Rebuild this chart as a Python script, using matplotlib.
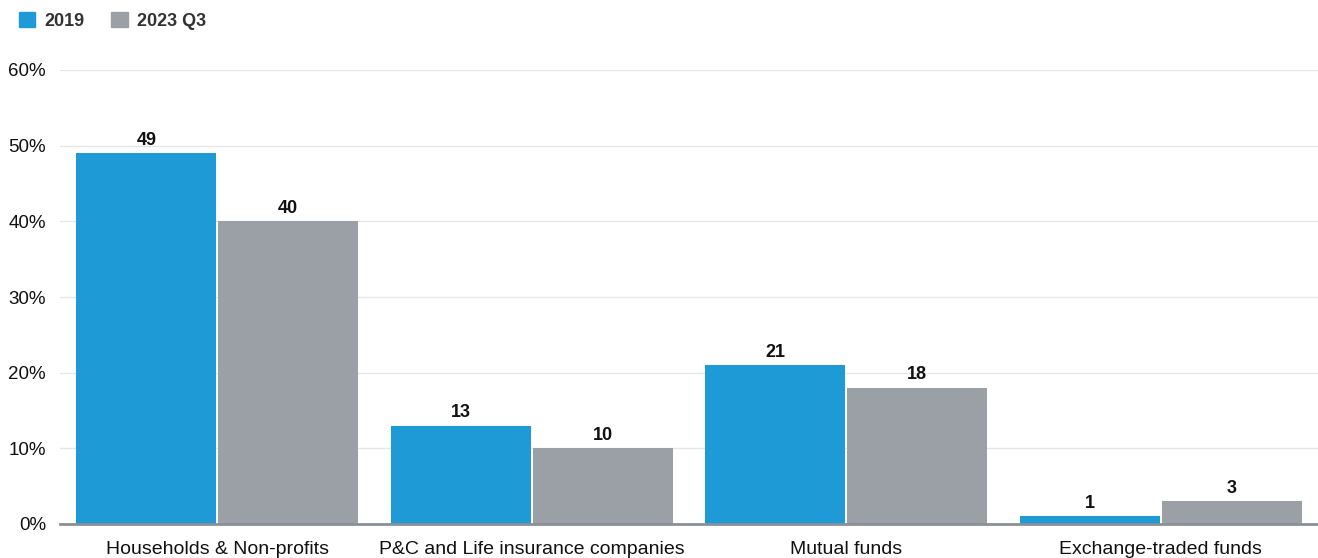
import numpy as np
import matplotlib.pyplot as plt
from matplotlib.patches import Patch

categories = ['Households & Non-profits', 'P&C and Life insurance companies',
              'Mutual funds', 'Exchange-traded funds']
vals_2019 = [49, 13, 21, 1]
vals_2023 = [40, 10, 18, 3]
series = ['2019', '2023 Q3']
colors = ['#1e9ad6', '#9aa0a6']

plt.rcParams['font.family'] = ['Liberation Sans', 'DejaVu Sans']

fig = plt.figure(figsize=(13.18, 5.58), dpi=100)
ax = fig.add_axes([60 / 1318, 34 / 558, 1258 / 1318, 454 / 558])

ind = np.arange(len(categories))
width = 0.445
gap = 0.003
b1 = ax.bar(ind - width / 2 - gap, vals_2019, width, color=colors[0], zorder=3)
b2 = ax.bar(ind + width / 2 + gap, vals_2023, width, color=colors[1], zorder=3)

for bars in (b1, b2):
    for r in bars:
        ax.text(r.get_x() + r.get_width() / 2, r.get_height() + 0.6,
                '%d' % r.get_height(), ha='center', va='bottom',
                fontsize=13, fontweight='bold', color='#111111')

ax.set_xlim(-0.5, len(categories) - 0.5)
ax.set_ylim(0, 60)
ax.set_yticks(range(0, 61, 10))
ax.set_yticklabels(['%d%%' % v for v in range(0, 61, 10)], fontsize=13.5)
ax.set_xticks(ind)
ax.set_xticklabels(categories, fontsize=14)
ax.tick_params(axis='both', length=0, colors='#111111')
ax.tick_params(axis='x', pad=12)
ax.tick_params(axis='y', pad=10)
ax.grid(axis='y', color='#e6e6e6', linewidth=1, zorder=0)
for s in ['top', 'right', 'left']:
    ax.spines[s].set_visible(False)
ax.spines['bottom'].set_color('#8a9096')
ax.spines['bottom'].set_linewidth(2)
ax.spines['bottom'].set_zorder(4)

handles = [Patch(facecolor=c, edgecolor=c) for c in colors]
leg = fig.legend(handles, series, loc='upper left', bbox_to_anchor=(0.002, 1.008),
                 ncol=2, frameon=False, handlelength=0.9, handleheight=0.9,
                 columnspacing=1.5, handletextpad=0.5,
                 prop={'weight': 'bold', 'size': 13})
for t in leg.get_texts():
    t.set_color('#333333')

fig.savefig('out.png', dpi=100)
